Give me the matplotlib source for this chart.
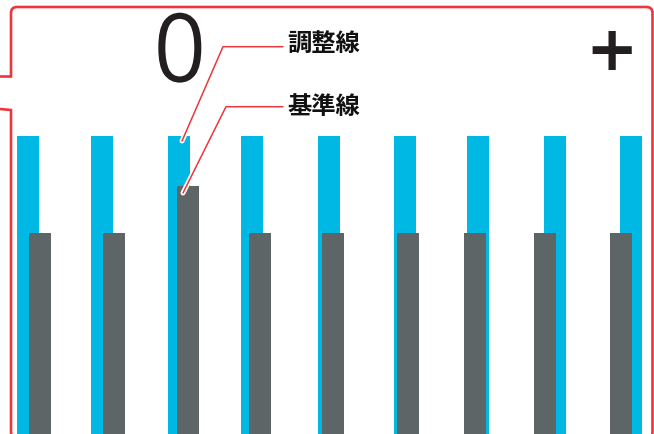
import numpy as np
from matplotlib import pyplot as plt
from matplotlib.path import Path
from matplotlib.patches import PathPatch
import matplotlib.patheffects as pe

W, H = 654, 434

# bar centres (pixel columns) and bar heights
adjust_x = [28, 102, 179, 252, 329, 405, 478, 555, 631]
adjust_h = [298, 298, 298, 298, 298, 298, 298, 298, 298]
base_x = [40, 114, 188, 260, 333, 408, 475, 545, 621]
base_h = [201, 201, 248, 201, 201, 201, 201, 201, 201]

labels = ["調整線", "基準線"]
counter_text = "0"
plus_text = "+"

blue = "#00b8e4"
gray = "#5d6566"
red = "#e8383d"

fig = plt.figure(figsize=(W / 100, H / 100), dpi=100)
ax = fig.add_axes([0, 0, 1, 1])
ax.set_xlim(0, W)
ax.set_ylim(0, H)
ax.axis("off")

ax.bar(adjust_x, adjust_h, width=22, color=blue, zorder=2)
ax.bar(base_x, base_h, width=22, color=gray, zorder=3)

# red frame with notch on the left side
r = 6
top, left, right, bot = H - 7, 11, 652.5, -4
verts = [(0, H - 76.5), (left, H - 76.5), (left, top - r), (left, top), (left + r, top),
         (right - r, top), (right, top), (right, top - r), (right, bot + r), (right, bot),
         (right - r, bot)]
codes = [Path.MOVETO, Path.LINETO, Path.LINETO, Path.CURVE3, Path.CURVE3,
         Path.LINETO, Path.CURVE3, Path.CURVE3, Path.LINETO, Path.CURVE3, Path.CURVE3]
ax.add_patch(PathPatch(Path(verts, codes), fill=False, edgecolor=red, lw=1.9, zorder=5))
verts2 = [(0, H - 109), (left, H - 110), (left, bot + r), (left, bot), (left + r, bot)]
codes2 = [Path.MOVETO, Path.LINETO, Path.LINETO, Path.CURVE3, Path.CURVE3]
ax.add_patch(PathPatch(Path(verts2, codes2), fill=False, edgecolor=red, lw=1.9, zorder=5))

# leader lines
halo = [pe.Stroke(linewidth=3.6, foreground="white"), pe.Normal()]
ax.plot([182, 223, 283], [H - 141, H - 46.7, H - 46.7], color=red, lw=1.1,
        solid_capstyle="round", path_effects=halo, zorder=6)
ax.plot([183, 226, 283], [H - 193, H - 106.7, H - 106.7], color=red, lw=1.1,
        solid_capstyle="round", path_effects=halo, zorder=6)

for txt, y in zip(labels, [45, 107]):
    ax.text(287, H - y, txt, ha="left", va="center", fontsize=17.5, fontweight="bold",
            family=["Noto Sans CJK JP", "DejaVu Sans"], color="#111111", zorder=7)

ax.text(180, H - 80, counter_text, ha="center", va="baseline", fontsize=64,
        family="DejaVu Sans", fontweight="light", color="#231f20", zorder=7,
        path_effects=[pe.withStroke(linewidth=1.9, foreground="#231f20")])
ax.text(612, H - 46, plus_text, ha="center", va="center_baseline", fontsize=45,
        fontweight="bold", color="#231f20", zorder=7)

fig.savefig("out.png", dpi=100)
